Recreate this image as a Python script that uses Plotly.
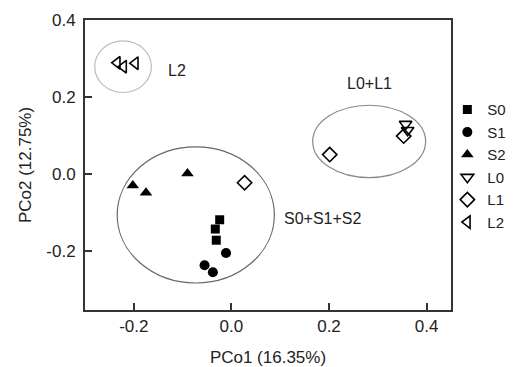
import plotly.graph_objects as go

# ---- data ----
s0_x = [-0.024, -0.033, -0.031]
s0_y = [-0.118, -0.142, -0.171]
s1_x = [-0.011, -0.055, -0.038]
s1_y = [-0.204, -0.236, -0.254]
s2_x = [-0.202, -0.175, -0.090]
s2_y = [-0.029, -0.048, 0.002]
l0_x = [0.357, 0.361]
l0_y = [0.130, 0.114]
l1_x = [0.027, 0.2015, 0.353]
l1_y = [-0.022, 0.051, 0.099]
l2_x = [-0.234, -0.221, -0.197]
l2_y = [0.289, 0.279, 0.288]

x_tickvals = [-0.2, 0.0, 0.2, 0.4]
x_ticktext = ["-0.2", "0.0", "0.2", "0.4"]
y_tickvals = [-0.2, 0.0, 0.2, 0.4]
y_ticktext = ["-0.2", "0.0", "0.2", "0.4"]

# group ellipses: (x0, x1, y0, y1)
ell_s = [-0.234, 0.088, -0.282, 0.071]
ell_l01 = [0.1666, 0.398, -0.0086, 0.179]
ell_l2 = [-0.280, -0.164, 0.212, 0.346]

labels = ["S0+S1+S2", "L0+L1", "L2"]
label_x = [0.1875, 0.283, -0.111]
label_y = [-0.114, 0.236, 0.270]

FONT = "Liberation Sans, Arial, sans-serif"
fig = go.Figure()

series = [
    ("S0", s0_x, s0_y, "square", 9, 0),
    ("S1", s1_x, s1_y, "circle", 10, 0),
    ("S2", s2_x, s2_y, "triangle-up", 11, 0),
    ("L0", l0_x, l0_y, "triangle-down-open", 11, 1.6),
    ("L1", l1_x, l1_y, "diamond-open", 11, 1.6),
    ("L2", l2_x, l2_y, "triangle-left-open", 11, 1.6),
]
for name, xs, ys, sym, sz, lw in series:
    fig.add_trace(go.Scatter(
        x=xs, y=ys, mode="markers", name=name,
        marker=dict(symbol=sym, size=sz, color="black",
                    line=dict(color="black", width=lw)),
    ))

for e, col in [(ell_s, "#666666"), (ell_l01, "#888888"), (ell_l2, "#bbbbbb")]:
    fig.add_shape(type="circle", xref="x", yref="y",
                  x0=e[0], x1=e[1], y0=e[2], y1=e[3],
                  line=dict(color=col, width=1.2))

for t, lx, ly in zip(labels, label_x, label_y):
    fig.add_annotation(x=lx, y=ly, text=t, showarrow=False,
                       font=dict(family=FONT, size=16, color="#222"))

axis_common = dict(
    showline=True, linecolor="#333", linewidth=2, mirror=True,
    ticks="inside", ticklen=7, tickwidth=2, tickcolor="#333",
    showgrid=False, zeroline=False,
    tickfont=dict(family=FONT, size=17, color="#222"),
)
fig.update_xaxes(range=[-0.3, 0.45], tickvals=x_tickvals, ticktext=x_ticktext,
                 title=dict(text="PCo1 (16.35%)", font=dict(family=FONT, size=17, color="#222"), standoff=17),
                 **axis_common)
fig.update_yaxes(range=[-0.352, 0.4], tickvals=y_tickvals, ticktext=y_ticktext,
                 ticklabelstandoff=4,
                 title=dict(text="PCo2 (12.75%)", font=dict(family=FONT, size=17, color="#222"), standoff=10),
                 **axis_common)

fig.update_layout(
    width=513, height=367,
    margin=dict(l=85, r=62, t=20, b=57, autoexpand=False),
    plot_bgcolor="white", paper_bgcolor="white",
    showlegend=True,
    legend=dict(x=0.990, xanchor="left", y=0.747, yanchor="top",
                bgcolor="rgba(0,0,0,0)", font=dict(family=FONT, size=15, color="#222"),
                itemwidth=30, tracegroupgap=0),
)

fig.write_html("out.html")
